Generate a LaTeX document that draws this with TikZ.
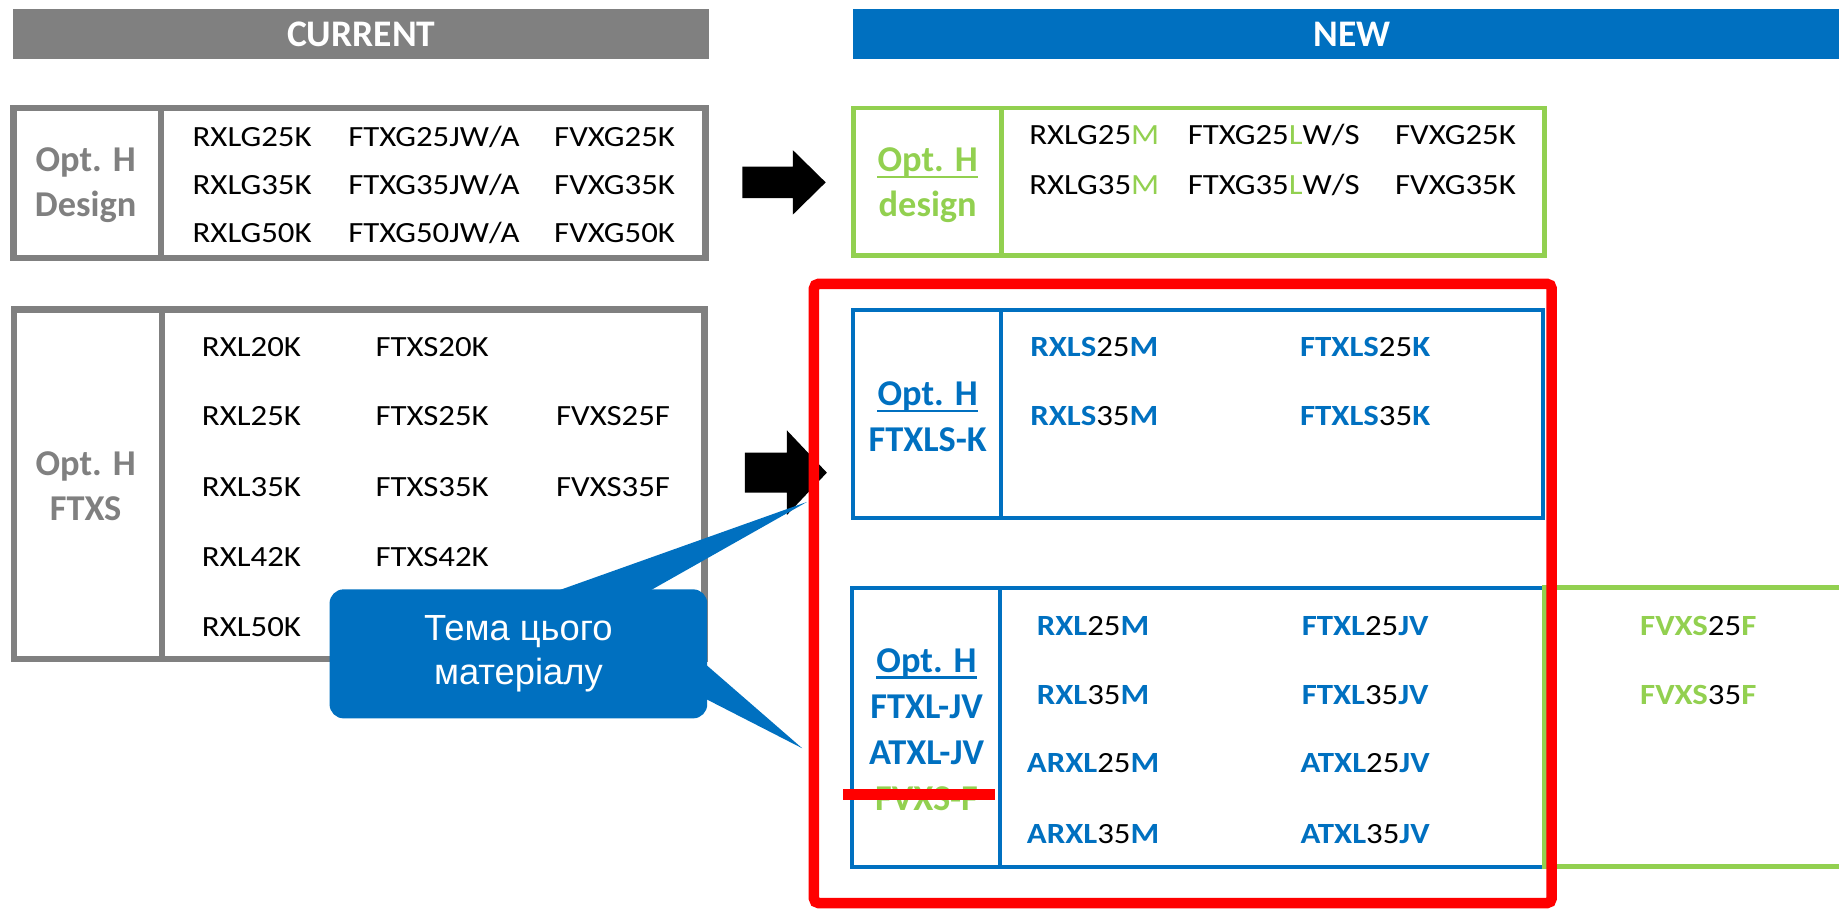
\documentclass[tikz,border=0pt]{standalone}
\usepackage{fontspec}
\setmainfont{Carlito}
\newfontfamily\rowfont{Carlito}[FakeStretch=1.12]
\newfontfamily\notefont{Liberation Sans}
\definecolor{curgray}{HTML}{808080}
\definecolor{newblue}{HTML}{0070C0}
\definecolor{newgreen}{HTML}{92D050}
\definecolor{markred}{HTML}{FF0000}
\newcommand{\bluebit}[1]{\textcolor{newblue}{\bfseries #1}}
\newcommand{\greenbit}[1]{\textcolor{newgreen}{#1}}
\newcommand{\greenbold}[1]{\textcolor{newgreen}{\bfseries #1}}

\begin{document}
\begin{tikzpicture}[x=1pt, y=-1pt,
    bartext/.style={inner sep=0pt, text height=21pt, text depth=0pt, text=white, font=\bfseries\fontsize{32}{36}\selectfont},
    entry/.style={inner sep=0pt, text height=16pt, text depth=0pt, font=\rowfont\fontsize{25}{30}\selectfont},
    optlabel/.style={inner sep=0pt, text height=20pt, text depth=0pt, font=\bfseries\fontsize{31}{36}\selectfont},
    curframe/.style={draw=curgray, line width=5.5pt},
    greenframe/.style={draw=newgreen, line width=4pt},
    blueframe/.style={draw=newblue, line width=3.5pt}]
        \useasboundingbox (0,0) rectangle (1568,776);
        \fill[curgray] (11,8) rectangle (604.5,50);
        \node[bartext] (current) at (308,29.5) {CURRENT};
        \fill[newblue] (727,8) rectangle (1568,50);
        \node[bartext] (new) at (1153,29.5) {NEW};

        \draw[curframe] (11.5,92) rectangle (601.5,220);
        \draw[curframe] (137.5,92) -- (137.5,220);
        \node[optlabel, text=curgray] (cdopt) at (73,136) {Opt. H};
        \node[optlabel, text=curgray] (cdname) at (73,175) {Design};
        \node[entry] (cd11) at (215,117) {RXLG25K};
        \node[entry] (cd12) at (370,117) {FTXG25JW/A};
        \node[entry] (cd13) at (524,117) {FVXG25K};
        \node[entry] (cd21) at (215,158) {RXLG35K};
        \node[entry] (cd22) at (370,158) {FTXG35JW/A};
        \node[entry] (cd23) at (524,158) {FVXG35K};
        \node[entry] (cd31) at (215,199) {RXLG50K};
        \node[entry] (cd32) at (370,199) {FTXG50JW/A};
        \node[entry] (cd33) at (524,199) {FVXG50K};

        \draw[curframe] (12,264) rectangle (600.5,562);
        \draw[curframe] (138,264) -- (138,562);
        \node[optlabel, text=curgray] (cfopt) at (73,395) {Opt. H};
        \node[optlabel, text=curgray] (cfname) at (73,434) {FTXS};
        \node[entry, anchor=west] (cf11) at (172,296) {RXL20K};
        \node[entry, anchor=west] (cf12) at (320,296) {FTXS20K};
        \node[entry, anchor=west] (cf21) at (172,355) {RXL25K};
        \node[entry, anchor=west] (cf22) at (320,355) {FTXS25K};
        \node[entry, anchor=west] (cf23) at (474,355) {FVXS25F};
        \node[entry, anchor=west] (cf31) at (172,415) {RXL35K};
        \node[entry, anchor=west] (cf32) at (320,415) {FTXS35K};
        \node[entry, anchor=west] (cf33) at (474,415) {FVXS35F};
        \node[entry, anchor=west] (cf41) at (172,475) {RXL42K};
        \node[entry, anchor=west] (cf42) at (320,475) {FTXS42K};
        \node[entry, anchor=west] (cf51) at (172,535) {RXL50K};

        \fill (633,142) -- (676,142) -- (676,128) -- (704,155.5) -- (676,183) -- (676,169) -- (633,169) -- cycle;
        \fill (635,386) -- (671,386) -- (671,367) -- (705,403) -- (671,439) -- (671,420) -- (635,420) -- cycle;

        \draw[greenframe] (728,92) rectangle (1317,218);
        \draw[greenframe] (854,92) -- (854,218);
        \node[optlabel, text=newgreen] (ndopt) at (791,136) {Opt. H};
        \draw[newgreen, line width=2pt] ([yshift=-4.5pt]ndopt.south west) -- ([yshift=-4.5pt]ndopt.south east);
        \node[optlabel, text=newgreen] (ndname) at (791,175) {design};
        \node[entry] (nd11) at (933,115) {RXLG25\greenbit{M}};
        \node[entry] (nd12) at (1086,115) {FTXG25\greenbit{L}W/S};
        \node[entry] (nd13) at (1241,115) {FVXG25K};
        \node[entry] (nd21) at (933,158) {RXLG35\greenbit{M}};
        \node[entry] (nd22) at (1086,158) {FTXG35\greenbit{L}W/S};
        \node[entry] (nd23) at (1241,158) {FVXG35K};

        \draw[blueframe] (727.5,264) rectangle (1315.5,441.5);
        \draw[blueframe] (853.5,264) -- (853.5,441.5);
        \node[optlabel, text=newblue] (nlopt) at (791,336) {Opt. H};
        \draw[newblue, line width=2pt] ([yshift=-4.5pt]nlopt.south west) -- ([yshift=-4.5pt]nlopt.south east);
        \node[optlabel, text=newblue] (nlname) at (791,375) {FTXLS-K};
        \node[entry] (nl11) at (933,296) {\bluebit{RXLS}25\bluebit{M}};
        \node[entry] (nl12) at (1164,296) {\bluebit{FTXLS}25\bluebit{K}};
        \node[entry] (nl21) at (933,355) {\bluebit{RXLS}35\bluebit{M}};
        \node[entry] (nl22) at (1164,355) {\bluebit{FTXLS}35\bluebit{K}};

        \draw[blueframe] (1317,501) -- (726.5,501) -- (726.5,739) -- (1317,739);
        \draw[blueframe] (853,501) -- (853,739);
        \draw[greenframe] (1570,501) -- (1317,501) -- (1317,739) -- (1570,739);
        \node[optlabel, text=newblue] (njopt) at (790,563) {Opt. H};
        \draw[newblue, line width=2pt] ([yshift=-4.5pt]njopt.south west) -- ([yshift=-4.5pt]njopt.south east);
        \node[optlabel, text=newblue] (njname) at (790,603) {FTXL-JV};
        \node[optlabel, text=newblue] (naname) at (790,642) {ATXL-JV};
        \node[optlabel, text=newgreen] (nfname) at (790,681) {FVXS-F};
        \node[entry] (nj11) at (932,534) {\bluebit{RXL}25\bluebit{M}};
        \node[entry] (nj12) at (1164,534) {\bluebit{FTXL}25\bluebit{JV}};
        \node[entry] (nj21) at (932,593) {\bluebit{RXL}35\bluebit{M}};
        \node[entry] (nj22) at (1164,593) {\bluebit{FTXL}35\bluebit{JV}};
        \node[entry] (nj31) at (932,651) {\bluebit{ARXL}25\bluebit{M}};
        \node[entry] (nj32) at (1164,651) {\bluebit{ATXL}25\bluebit{JV}};
        \node[entry] (nj41) at (932,711) {\bluebit{ARXL}35\bluebit{M}};
        \node[entry] (nj42) at (1164,711) {\bluebit{ATXL}35\bluebit{JV}};
        \node[entry] (ng1) at (1448,534) {\greenbold{FVXS}25\greenbold{F}};
        \node[entry] (ng2) at (1448,593) {\greenbold{FVXS}35\greenbold{F}};

        \draw[markred, line width=9pt, rounded corners=4pt] (694,242) rectangle (1323,770);
        \fill[markred] (719,673) rectangle (848,682);

        \node[fill=newblue, rounded corners=12pt, minimum width=322pt, minimum height=110pt, inner sep=0pt, text=white, align=center, font=\notefont\fontsize{31}{37}\selectfont] (theme) at (442,557.5) {Тема цього\\матеріалу};
        \coordinate (tipup) at (688,428);
        \coordinate (tipdown) at (684,638);
        \fill[newblue] (469,506) -- (tipup) -- (550,506) -- cycle;
        \fill[newblue] (600,565) -- (tipdown) -- (600,595) -- cycle;
\end{tikzpicture}
\end{document}
